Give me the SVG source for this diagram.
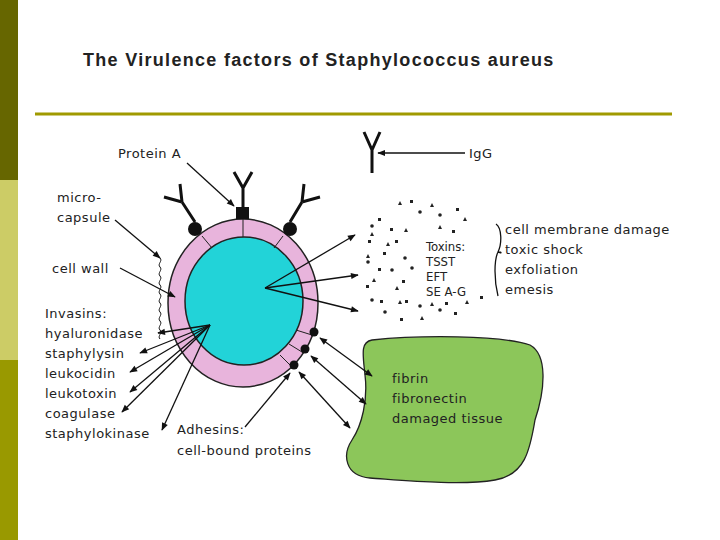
<svg xmlns="http://www.w3.org/2000/svg" width="720" height="540" viewBox="0 0 720 540">
<style>
text{font-family:"DejaVu Sans",sans-serif;fill:#222}
.l{font-size:13px;letter-spacing:0.5px}
.t{font-family:"DejaVu Sans Condensed","DejaVu Sans",sans-serif;font-size:13px}
.c line,.c path{stroke:#111;stroke-width:1.3;fill:none}
.ab{stroke:#111;stroke-width:3;fill:none}
</style>
<defs>
<marker id="a" viewBox="0 0 10 10" refX="9" refY="5" markerWidth="7" markerHeight="6" orient="auto-start-reverse"><path d="M0,1L10,5L0,9z" fill="#111"/></marker>
</defs>
<rect width="720" height="540" fill="#fff"/>
<rect x="0" y="0" width="18" height="180" fill="#666600"/>
<rect x="0" y="180" width="18" height="180" fill="#cccc66"/>
<rect x="0" y="360" width="18" height="180" fill="#999900"/>
<text x="83" y="66" style="font-family:'Liberation Sans',Arial,sans-serif;font-size:18px;font-weight:bold;letter-spacing:1.3px" fill="#111">The Virulence factors of Staphylococcus aureus</text>
<line x1="35" y1="114" x2="672" y2="114" stroke="#a09a00" stroke-width="3"/>

<g id="blob"><path d="M372,340 C420,335 500,335 530,345 C548,355 545,390 535,420 C530,450 525,475 495,480 C460,486 400,480 370,478 C345,476 342,455 352,440 C362,425 368,400 365,375 C363,355 360,342 372,340Z" fill="#8cc65a" stroke="#222" stroke-width="1.3"/>
<text class="l" x="392" y="383">fibrin</text><text class="l" x="392" y="403">fibronectin</text><text class="l" x="392" y="423">damaged tissue</text></g>

<g id="cell">
<ellipse cx="243" cy="303" rx="75" ry="84" fill="#e8b4dc" stroke="#222" stroke-width="1.5"/>
<ellipse cx="244" cy="301" rx="59" ry="64" fill="#22d3d8" stroke="#222" stroke-width="1.5"/>
<g stroke="#222" stroke-width="1"><line x1="243" y1="219" x2="243" y2="237"/><line x1="202" y1="236" x2="212" y2="248"/><line x1="283" y1="236" x2="274" y2="248"/><line x1="296" y1="330" x2="312" y2="335"/><line x1="289" y1="344" x2="302" y2="352"/><line x1="280" y1="355" x2="290" y2="365"/></g>
<rect x="236" y="207" width="13" height="12" fill="#111"/>
<circle cx="195" cy="229" r="7" fill="#111"/><circle cx="290" cy="229" r="7" fill="#111"/>
<circle cx="314" cy="332" r="4.5" fill="#111"/><circle cx="305" cy="349" r="4.5" fill="#111"/><circle cx="294" cy="365" r="4.5" fill="#111"/>
<path class="ab" d="M243,207V188M243,188L234,172M243,188L252,172" stroke-width="2.5"/>
<path class="ab" d="M195,222L182,202M182,202L164,197M182,202L180,184" stroke-width="2.5"/>
<path class="ab" d="M290,222L302,202M302,202L320,197M302,202L304,184" stroke-width="2.5"/>
<path d="M160,258c3,3 -3,6 0,9c3,3 -3,6 0,9c3,3 -3,6 0,9c3,3 -3,6 0,9c3,3 -3,6 0,9c3,3 -3,6 0,9c3,3 -3,6 0,9c3,3 -3,6 0,9c3,3 -3,6 0,9" stroke="#111" fill="none"/>
</g>

<g id="toxins" fill="#222">
<rect x="410" y="200" width="3" height="3"/><rect x="456" y="208" width="3" height="3"/><rect x="378" y="218" width="3" height="3"/><rect x="390" y="228" width="3" height="3"/><rect x="452" y="230" width="3" height="3"/><rect x="368" y="240" width="3" height="3"/><rect x="395" y="240" width="3" height="3"/><rect x="383" y="252" width="3" height="3"/><rect x="366" y="285" width="3" height="3"/><rect x="380" y="300" width="3" height="3"/><rect x="405" y="300" width="3" height="3"/><rect x="445" y="302" width="3" height="3"/><rect x="400" y="318" width="3" height="3"/><rect x="454" y="312" width="3" height="3"/><rect x="480" y="296" width="3" height="3"/><rect x="378" y="268" width="3" height="3"/><rect x="402" y="280" width="3" height="3"/>
<circle cx="372" cy="226" r="1.8"/><circle cx="420" cy="212" r="1.8"/><circle cx="440" cy="215" r="1.8"/><circle cx="368" cy="262" r="1.8"/><circle cx="405" cy="258" r="1.8"/><circle cx="372" cy="300" r="1.8"/><circle cx="420" cy="306" r="1.8"/><circle cx="440" cy="310" r="1.8"/><circle cx="392" cy="270" r="1.8"/><circle cx="412" cy="268" r="1.8"/><circle cx="385" cy="312" r="1.8"/>
<path d="M398,205l2,-4l2,4z M430,207l2,-4l2,4z M463,221l2,-4l2,4z M370,236l2,-4l2,4z M404,232l2,-4l2,4z M438,229l2,-4l2,4z M366,258l2,-4l2,4z M372,282l2,-4l2,4z M395,290l2,-4l2,4z M398,304l2,-4l2,4z M430,306l2,-4l2,4z M465,304l2,-4l2,4z M420,320l2,-4l2,4z M386,246l2,-4l2,4z"/>
<text class="t" x="426" y="251">Toxins:</text>
<text class="t" x="426" y="266">TSST</text>
<text class="t" x="426" y="281">EFT</text>
<text class="t" x="426" y="296">SE A-G</text>
<path d="M496,224c6,4 6,20 2,28c4,2 4,0 0,0c-4,8 -4,28 0,44" stroke="#111" fill="none" stroke-width="1.3"/>
<text class="l" x="505" y="234">cell membrane damage</text>
<text class="l" x="505" y="254">toxic shock</text>
<text class="l" x="505" y="274">exfoliation</text>
<text class="l" x="505" y="294">emesis</text>
</g>

<g id="labels">
<text class="l" x="118" y="158">Protein A</text>
<text class="l" x="57" y="202">micro-</text><text class="l" x="57" y="222">capsule</text>
<text class="l" x="52" y="273">cell wall</text>
<text class="l" x="45" y="318">Invasins:</text>
<text class="l" x="45" y="338">hyaluronidase</text>
<text class="l" x="45" y="358">staphylysin</text>
<text class="l" x="45" y="378">leukocidin</text>
<text class="l" x="45" y="398">leukotoxin</text>
<text class="l" x="45" y="418">coagulase</text>
<text class="l" x="45" y="438">staphylokinase</text>
<text class="l" x="177" y="434">Adhesins:</text>
<text class="l" x="177" y="455">cell-bound proteins</text>
<g id="igg"><path class="ab" d="M372,173V150M372,150L364,132M372,150L380,132"/></g>
<text class="l" x="469" y="158">IgG</text>
</g>

<g class="c" id="connectors">
<line x1="187" y1="163" x2="234" y2="206" marker-end="url(#a)"/>
<line x1="115" y1="220" x2="160" y2="258" marker-end="url(#a)"/>
<line x1="120" y1="268" x2="175" y2="297" marker-end="url(#a)"/>
<line x1="465" y1="153" x2="378" y2="153" marker-end="url(#a)"/>
<line x1="265" y1="288" x2="355" y2="235" marker-end="url(#a)"/>
<line x1="265" y1="288" x2="358" y2="275" marker-end="url(#a)"/>
<line x1="265" y1="288" x2="358" y2="311" marker-end="url(#a)"/>
<line x1="210" y1="325" x2="158" y2="333" marker-end="url(#a)"/>
<line x1="210" y1="325" x2="140" y2="353" marker-end="url(#a)"/>
<line x1="210" y1="325" x2="130" y2="372" marker-end="url(#a)"/>
<line x1="210" y1="325" x2="130" y2="392" marker-end="url(#a)"/>
<line x1="210" y1="325" x2="122" y2="412" marker-end="url(#a)"/>
<line x1="210" y1="325" x2="162" y2="430" marker-end="url(#a)"/>
<line x1="320" y1="338" x2="372" y2="376" marker-start="url(#a)" marker-end="url(#a)"/>
<line x1="311" y1="356" x2="366" y2="404" marker-start="url(#a)" marker-end="url(#a)"/>
<line x1="299" y1="372" x2="350" y2="428" marker-start="url(#a)" marker-end="url(#a)"/>
<line x1="245" y1="427" x2="290" y2="373" marker-end="url(#a)"/>
</g>
</svg>
